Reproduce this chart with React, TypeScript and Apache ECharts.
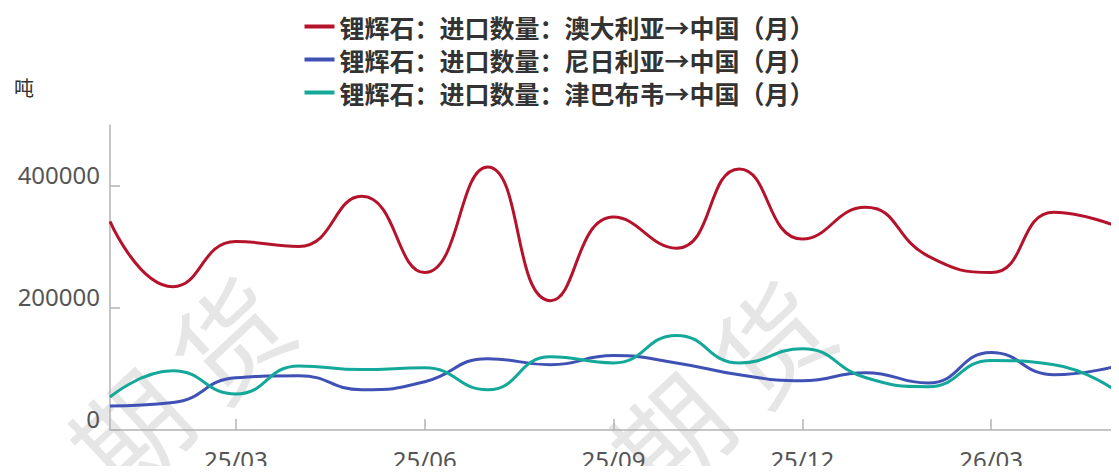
import React, { useEffect, useRef } from "react";
import * as echarts from "echarts";

const months = [
  "25/01", "25/02", "25/03", "25/04", "25/05", "25/06", "25/07", "25/08", "25/09",
  "25/10", "25/11", "25/12", "26/01", "26/02", "26/03", "26/04", "26/05",
];
const australia = [342000, 235000, 309000, 301000, 383000, 258000, 431000, 212000, 349000, 298000, 428000, 313000, 365000, 285000, 258000, 357000, 334000];
const nigeria = [39500, 45000, 85600, 89000, 66000, 79000, 117000, 107000, 122000, 110000, 90500, 80700, 94000, 77000, 127000, 90500, 105000];
const zimbabwe = [54000, 97000, 59000, 105000, 99000, 102000, 66000, 120000, 110000, 155000, 110000, 133000, 86000, 71000, 114000, 107000, 63000];
const yTicks = [0, 200000, 400000];
const seriesNames = [
  "锂辉石：进口数量：澳大利亚→中国（月）",
  "锂辉石：进口数量：尼日利亚→中国（月）",
  "锂辉石：进口数量：津巴布韦→中国（月）",
];
const colors = ["#b5132b", "#3f51b5", "#14a89a"];
const watermarkChars = ["期", "货"];

export default function App() {
  const ref = useRef<HTMLDivElement>(null);
  useEffect(() => {
    if (!ref.current) return;
    const chart = echarts.init(ref.current, null, { renderer: "svg" });
    const font = "'Noto Sans', 'Noto Sans CJK SC', sans-serif";
    const showIdx = (i: number) => i % 3 === 2;
    const wmPos = [
      [127, 428],
      [668, 432],
    ];
    const graphics: any[] = [];
    wmPos.forEach(([x, y]) => {
      watermarkChars.forEach((ch, k) => {
        graphics.push({
          type: "text",
          x: x + k * 100,
          y: y - k * 92,
          rotation: 0.75,
          z: -10,
          silent: true,
          style: {
            text: ch,
            fontSize: 112,
            fontWeight: "normal",
            fontFamily: "'Noto Sans CJK SC', sans-serif",
            fill: "#e6e6e6",
            align: "center",
            verticalAlign: "middle",
          },
        });
      });
    });
    chart.setOption({
      animation: false,
      backgroundColor: "#ffffff",
      color: colors,
      graphic: graphics,
      legend: {
        orient: "vertical",
        left: "center",
        top: 9,
        itemWidth: 30,
        itemHeight: 4,
        itemGap: 8,
        icon: "rect",
        textStyle: {
          fontSize: 25,
          color: "#333",
          fontWeight: "bold",
          fontFamily: "'Noto Sans CJK SC', sans-serif",
        },
        data: seriesNames,
      },
      grid: { left: 110, right: 2, top: 125, bottom: 44, containLabel: false },
      xAxis: {
        type: "category",
        data: months,
        boundaryGap: false,
        axisLine: { lineStyle: { color: "#b3b3b3", width: 1.5 } },
        axisTick: { inside: true, length: 11, interval: (i: number) => showIdx(i), lineStyle: { color: "#b3b3b3", width: 1.5 } },
        axisLabel: {
          interval: (i: number) => showIdx(i),
          margin: 17,
          fontSize: 24,
          color: "#555",
          fontFamily: font,
        },
        splitLine: { show: false },
      },
      yAxis: {
        type: "value",
        min: 0,
        max: 500000,
        name: "吨",
        nameLocation: "end",
        nameGap: 28,
        nameTextStyle: {
          fontSize: 20,
          color: "#333",
          align: "right",
          padding: [0, 76, 0, 0],
          fontFamily: "'Noto Sans CJK SC', sans-serif",
        },
        axisLine: { show: true, lineStyle: { color: "#b3b3b3", width: 1.5 } },
        axisTick: { show: true, inside: true, length: 10, customValues: yTicks, lineStyle: { color: "#b3b3b3", width: 1.5 } },
        axisLabel: {
          customValues: yTicks,
          formatter: (v: number) => String(v),
          margin: 10,
          fontSize: 24,
          color: "#555",
          fontFamily: font,
          verticalAlign: "bottom",
        },
        splitLine: { show: false },
      },
      series: [australia, nigeria, zimbabwe].map((d, i) => ({
        name: seriesNames[i],
        type: "line",
        data: d,
        smooth: true,
        showSymbol: false,
        symbol: "none",
        lineStyle: { width: 3, color: colors[i] },
        itemStyle: { color: colors[i] },
      })),
    });
    return () => chart.dispose();
  }, []);
  return <div ref={ref} style={{ width: 1119, height: 474, margin: -8 }} />;
}
